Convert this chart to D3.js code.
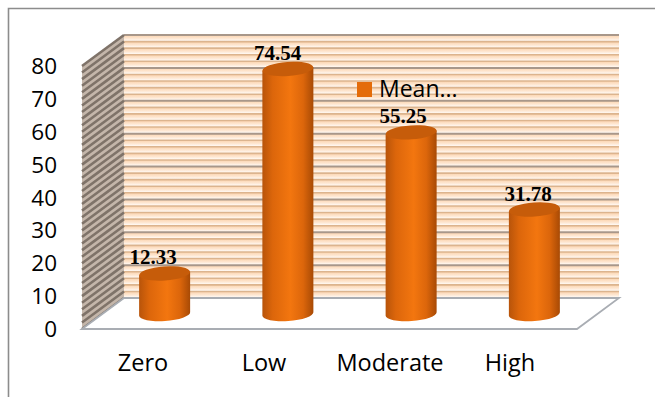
<!DOCTYPE html>
<html>
<head>
<meta charset="utf-8">
<script src="https://cdn.jsdelivr.net/npm/d3@7/dist/d3.min.js"></script>
<style>
html,body{margin:0;padding:0;background:#fff;}
svg{display:block;}
</style>
</head>
<body>
<svg id="chart" width="655" height="397"></svg>
<script>
// Chart content
const categories = ["Zero", "Low", "Moderate", "High"];
const meanValues = [12.33, 74.54, 55.25, 31.78];
const yTicks = [0, 10, 20, 30, 40, 50, 60, 70, 80];
const minorTicks = d3.range(0, 80.01, 2);
const legendLabel = "Mean...";

const svg = d3.select("#chart");
const defs = svg.append("defs");

// 3D box: the back wall sits up and to the right of the front edge
const depthX = 42;
const yFront = d3.scaleLinear().domain([0, 80]).range([329, 66]);
const yBack = d3.scaleLinear().domain([0, 80]).range([298, 35]);
const yBar = d3.scaleLinear().domain([0, 80]).range([314, 51]);
const frontLeft = 82, frontRight = 577;
const x = d3.scaleBand().domain(categories).range([103, 596]);
const barWidth = 51;
const barRy = 7;
const tilt = -4;

// Outer frame
svg.append("path").attr("d", "M8.5,397V8.5H655")
  .attr("fill", "none").attr("stroke", "#8c8c8c").attr("stroke-width", 1.6);

// Vertical shading of a single stripe
const stripe = defs.append("linearGradient").attr("id", "stripe")
  .attr("x1", 0).attr("x2", 0).attr("y1", 0).attr("y2", 1);
stripe.append("stop").attr("offset", "0%").attr("stop-color", "#fbd3ad");
stripe.append("stop").attr("offset", "50%").attr("stop-color", "#fee6d0");
stripe.append("stop").attr("offset", "100%").attr("stop-color", "#ffffff");

const backLeft = frontLeft + depthX, backRight = frontRight + depthX;
const wall = svg.append("g");
const stripes = minorTicks.slice(0, -1);

wall.selectAll("rect.band").data(stripes).join("rect")
  .attr("class", "band")
  .attr("x", backLeft).attr("width", backRight - backLeft)
  .attr("y", d => yBack(d + 2)).attr("height", d => yBack(d) - yBack(d + 2))
  .attr("fill", "url(#stripe)");

wall.selectAll("line.minor").data(minorTicks.filter(d => d % 10 !== 0)).join("line")
  .attr("class", "minor")
  .attr("x1", backLeft).attr("x2", backRight)
  .attr("y1", d => yBack(d)).attr("y2", d => yBack(d))
  .attr("stroke", "#dcb48e").attr("stroke-width", 1.6);

wall.selectAll("line.major").data(yTicks).join("line")
  .attr("class", "major")
  .attr("x1", backLeft).attr("x2", backRight)
  .attr("y1", d => yBack(d)).attr("y2", d => yBack(d))
  .attr("stroke", "#a8978a").attr("stroke-width", 2);

// Left side wall
const sideWall = svg.append("g");
sideWall.append("path")
  .attr("d", `M${frontLeft},${yFront(0)}L${frontLeft},${yFront(80)}L${backLeft},${yBack(80)}L${backLeft},${yBack(0)}Z`)
  .attr("fill", "#c4b6aa");
sideWall.selectAll("line").data(minorTicks).join("line")
  .attr("x1", frontLeft).attr("x2", backLeft)
  .attr("y1", d => yFront(d)).attr("y2", d => yBack(d))
  .attr("stroke", "#7f7369").attr("stroke-width", 2.6);

// Floor
svg.append("path")
  .attr("d", `M${frontLeft},${yFront(0)}L${backLeft},${yBack(0)}L${backRight},${yBack(0)}L${frontRight},${yFront(0)}Z`)
  .attr("fill", "#ffffff").attr("stroke", "#a9adb3").attr("stroke-width", 1.8);

// Cylinder body shading
const bodyGrad = defs.append("linearGradient").attr("id", "cylBody")
  .attr("x1", 0).attr("x2", 1).attr("y1", 0).attr("y2", 0);
[[0, "#b8540a"], [0.2, "#dc660b"], [0.55, "#f3760f"], [0.8, "#dc660b"], [1, "#a84a05"]]
  .forEach(([o, c]) => bodyGrad.append("stop").attr("offset", o).attr("stop-color", c));

const bars = svg.append("g").selectAll("g").data(categories.map((c, i) => ({c, v: meanValues[i], i}))).join("g");

bars.append("path")
  .attr("fill", "url(#cylBody)")
  .attr("d", d => {
    const cx = x(d.c) + x.bandwidth() / 2, r = barWidth / 2;
    const dy = Math.sin(tilt * Math.PI / 180) * r;
    const t = yBar(d.v), b = yBar(0);
    return `M${cx - r},${t - dy}L${cx + r},${t + dy}L${cx + r},${b + dy}` +
      `A${r},${barRy} ${tilt} 0 1 ${cx - r},${b - dy}Z`;
  });

bars.append("ellipse")
  .attr("cx", d => x(d.c) + x.bandwidth() / 2)
  .attr("cy", d => yBar(d.v))
  .attr("rx", barWidth / 2).attr("ry", barRy)
  .attr("transform", d => `rotate(${tilt} ${x(d.c) + x.bandwidth() / 2} ${yBar(d.v)})`)
  .attr("fill", "#c65c0a");

// Value labels
const valueLabelCentres = [153, 277.5, 403, 528];
bars.append("text")
  .attr("x", d => valueLabelCentres[d.i])
  .attr("y", d => yBar(d.v) - 9)
  .attr("text-anchor", "middle")
  .attr("font-family", "'Liberation Serif', serif")
  .attr("font-weight", "bold").attr("font-size", 21)
  .attr("fill", "#000")
  .text(d => d.v.toFixed(2));

// Value axis labels
svg.append("g").selectAll("text").data(yTicks).join("text")
  .attr("x", 57).attr("y", d => yFront(d) + 8)
  .attr("text-anchor", "end")
  .attr("font-family", "'Open Sans', sans-serif").attr("font-size", 22.5)
  .attr("fill", "#000")
  .text(d => d);

// Category labels
const labelCentres = [143, 264, 390, 510];
svg.append("g").selectAll("text").data(categories).join("text")
  .attr("x", (d, i) => labelCentres[i]).attr("y", 371)
  .attr("text-anchor", "middle")
  .attr("font-family", "'Open Sans', sans-serif").attr("font-size", 23.5)
  .attr("fill", "#000")
  .text(d => d);

// Legend
svg.append("rect").attr("x", 357).attr("y", 82).attr("width", 15).attr("height", 15).attr("fill", "#e46c0a");
svg.append("text").attr("x", 379).attr("y", 97)
  .attr("font-family", "'Open Sans', sans-serif").attr("font-size", 23)
  .attr("fill", "#000").text(legendLabel);
</script>
</body>
</html>
